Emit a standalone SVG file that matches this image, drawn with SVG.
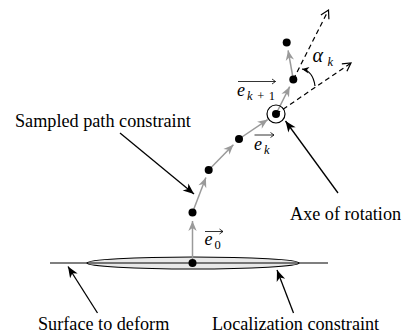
<svg xmlns="http://www.w3.org/2000/svg" width="404" height="336" viewBox="0 0 404 336">
<style>
.lbl{font-size:18.2px}
.m{font-style:italic;font-size:18px}
.a{font-style:italic;font-size:20px}
.s{font-style:italic;font-size:12.5px}
.s0{font-size:12.5px}
.dot{fill:#000}
.g{stroke:#9a9a9a;stroke-width:1.5;fill:none;marker-end:url(#ga)}
.b{stroke:#000;stroke-width:1.3;fill:none;marker-end:url(#ba)}
.d{stroke:#000;stroke-width:1.2;fill:none;stroke-dasharray:5 3.5;marker-end:url(#oa)}
.ov{stroke:#000;stroke-width:0.8;fill:none}
</style>
<defs>
<marker id="ga" viewBox="-11 -5 12 10" refX="0" refY="0" markerWidth="12" markerHeight="10" markerUnits="userSpaceOnUse" orient="auto">
<path d="M0,0 L-10,-4.2 L-7,0 L-10,4.2 Z" fill="#9a9a9a"/>
</marker>
<marker id="ba" viewBox="-12 -5 13 10" refX="0" refY="0" markerWidth="13" markerHeight="10" markerUnits="userSpaceOnUse" orient="auto">
<path d="M0,0 L-11,-4.5 L-8,0 L-11,4.5 Z" fill="#000"/>
</marker>
<marker id="oa" viewBox="-10 -6 12 12" refX="0" refY="0" markerWidth="12" markerHeight="12" markerUnits="userSpaceOnUse" orient="auto">
<path d="M-8,-4.5 L0,0 L-8,4.5" fill="none" stroke="#000" stroke-width="1.2"/>
</marker>
<marker id="sa" viewBox="-8 -4 9 8" refX="0" refY="0" markerWidth="9" markerHeight="8" markerUnits="userSpaceOnUse" orient="auto">
<path d="M0,0 L-7,-3.2 L-5,0 L-7,3.2 Z" fill="#000"/>
</marker>
</defs>

<g id="surface">
<ellipse cx="193" cy="263" rx="106" ry="6" fill="#e8e8e8" stroke="#000" stroke-width="1.2"/>
<line x1="50" y1="263" x2="328" y2="263" stroke="#000" stroke-width="1.2"/>
</g>

<g id="connectors">
<line class="g" x1="192.5" y1="263" x2="192.5" y2="221"/>
<line class="g" x1="192.5" y1="212.5" x2="205.9" y2="177.5"/>
<line class="g" x1="208.7" y1="170" x2="233.4" y2="144.7"/>
<line class="g" x1="239" y1="139" x2="267.7" y2="119.6"/>
<line class="g" x1="276" y1="114" x2="289.7" y2="86.7"/>
<line class="g" x1="293.3" y1="79.5" x2="288.1" y2="50.4"/>
<line class="d" x1="293.3" y1="79.5" x2="328.5" y2="10"/>
<line class="d" x1="276" y1="114" x2="351" y2="63"/>
<path d="M315,86 Q313,71 302,69" stroke="#000" stroke-width="1.2" fill="none" marker-end="url(#sa)"/>
<line class="b" x1="120" y1="133" x2="194" y2="194"/>
<line class="b" x1="338" y1="193" x2="285.5" y2="121"/>
<line class="b" x1="97.5" y1="313" x2="68" y2="266.5"/>
<line class="b" x1="293.5" y1="313" x2="277" y2="270"/>
</g>

<g id="p0"><circle class="dot" cx="192.5" cy="263" r="4"/></g>
<g id="p1"><circle class="dot" cx="192.5" cy="212.5" r="4"/></g>
<g id="p2"><circle class="dot" cx="208.7" cy="170" r="4"/></g>
<g id="p3"><circle class="dot" cx="239" cy="139" r="4"/></g>
<g id="p4"><circle class="dot" cx="276" cy="114" r="4"/><circle cx="276" cy="114" r="9" fill="none" stroke="#000" stroke-width="1.2"/></g>
<g id="p5"><circle class="dot" cx="293.3" cy="79.5" r="4"/></g>
<g id="p6"><circle class="dot" cx="286.7" cy="42.5" r="4"/></g>

<g font-family="Liberation Serif, serif" fill="#000">
<g id="label-e0">
<text class="m" x="204.5" y="245">e</text><text class="s0" x="214.5" y="249">0</text>
<path class="ov" d="M205,231.5 H223 M219.5,229 L223,231.5 L219.5,234"/>
</g>
<g id="label-ek">
<text class="m" x="254" y="150">e</text><text class="s" x="264" y="153.5">k</text>
<path class="ov" d="M254.5,135 H274 M270.5,132.5 L274,135 L270.5,137.5"/>
</g>
<g id="label-ek1">
<text class="m" x="237" y="96">e</text><text class="s" x="247" y="99.5" textLength="28" lengthAdjust="spacing">k<tspan font-style="normal">+1</tspan></text>
<path class="ov" d="M238,81.5 H275.5 M272,79 L275.5,81.5 L272,84"/>
</g>
<g id="label-alpha">
<text class="a" x="312.5" y="62">α</text><text class="s" x="327.5" y="65.5">k</text>
</g>

<g id="label-sampled"><text class="lbl" x="15" y="127">Sampled path constraint</text></g>
<g id="label-axe"><text class="lbl" x="290" y="220">Axe of rotation</text></g>
<g id="label-surface"><text class="lbl" x="38" y="330">Surface to deform</text></g>
<g id="label-local"><text class="lbl" x="212" y="330">Localization constraint</text></g>
</g>
</svg>
